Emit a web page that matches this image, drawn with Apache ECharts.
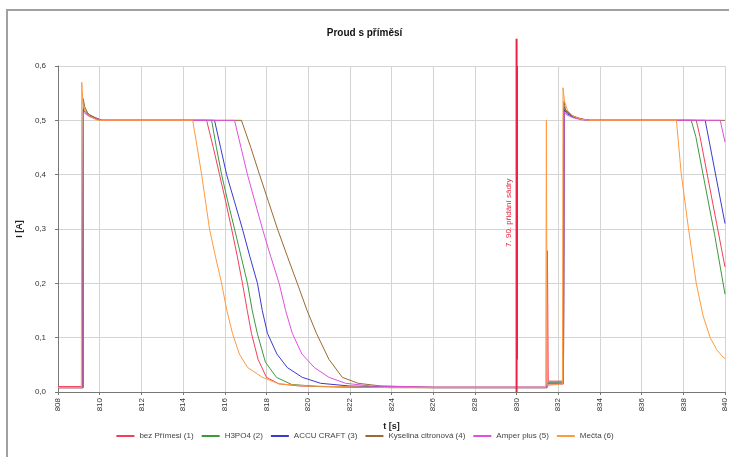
<!DOCTYPE html>
<html>
<head>
<meta charset="utf-8">
<title>Proud s příměsí</title>
<script src="https://cdn.jsdelivr.net/npm/echarts@6/dist/echarts.min.js"></script>
<style>
html, body { margin: 0; padding: 0; background: #fff; }
#main { width: 729px; height: 457px; }
</style>
</head>
<body>
<div id="main"></div>
<script>
// t [s] / I [A]
var names = ["bez Přímesi (1)", "H3PO4 (2)", "ACCU CRAFT (3)", "Kyselina citronová (4)", "Amper plus (5)", "Mečta (6)"];
var colors = ["#f0405a", "#3c9a3c", "#3a3ad0", "#9a6a30", "#e050e0", "#ff9a40"];

var t1 = [808, 809.18, 809.2, 809.22, 809.3, 809.5, 809.8, 810.1, 815.13, 815.45, 815.75, 816.05, 816.33, 816.6, 816.85, 817.08, 817.28, 817.6, 818.0, 818.6, 819.6, 822, 826, 831.45, 831.48, 831.52, 832.25, 832.28, 832.4, 832.7, 833.1, 833.5, 838.62, 838.8, 839.2, 839.6, 840];
var i1 = [0.01, 0.01, 0.285, 0.52, 0.515, 0.51, 0.505, 0.5, 0.5, 0.45, 0.4, 0.35, 0.3, 0.25, 0.2, 0.15, 0.108, 0.06, 0.027, 0.015, 0.011, 0.009, 0.008, 0.008, 0.26, 0.02, 0.02, 0.52, 0.515, 0.508, 0.503, 0.5, 0.5, 0.47, 0.39, 0.31, 0.23];

var t2 = [808, 809.2, 809.22, 809.3, 809.5, 809.8, 810.1, 815.37, 815.6, 815.85, 816.15, 816.47, 816.78, 817.09, 817.32, 817.56, 817.95, 818.48, 819.2, 820.5, 824, 831.45, 831.5, 832.25, 832.28, 832.4, 832.7, 833.1, 833.5, 838.38, 838.6, 839.0, 839.5, 840];
var i2 = [0.008, 0.008, 0.525, 0.518, 0.51, 0.504, 0.5, 0.5, 0.45, 0.4, 0.35, 0.3, 0.25, 0.2, 0.15, 0.108, 0.055, 0.027, 0.014, 0.01, 0.008, 0.008, 0.018, 0.018, 0.525, 0.515, 0.507, 0.502, 0.5, 0.5, 0.47, 0.39, 0.29, 0.18];

var t3 = [808, 809.2, 809.22, 809.3, 809.5, 809.8, 810.1, 815.51, 815.8, 816.09, 816.47, 816.85, 817.2, 817.57, 817.8, 818.05, 818.5, 819.0, 819.72, 820.6, 822, 826, 831.45, 831.5, 832.25, 832.28, 832.4, 832.7, 833.1, 833.5, 839.05, 839.25, 839.6, 840];
var i3 = [0.008, 0.008, 0.52, 0.515, 0.508, 0.503, 0.5, 0.5, 0.45, 0.4, 0.35, 0.3, 0.25, 0.2, 0.15, 0.108, 0.07, 0.045, 0.027, 0.016, 0.011, 0.008, 0.008, 0.016, 0.016, 0.52, 0.513, 0.506, 0.502, 0.5, 0.5, 0.46, 0.39, 0.31];

var t4 = [808, 809.2, 809.21, 809.28, 809.45, 809.75, 810.1, 816.8, 817.25, 817.67, 818.1, 818.53, 819.0, 819.48, 819.95, 820.4, 821.0, 821.64, 822.4, 823.5, 826, 831.45, 831.5, 832.25, 832.27, 832.35, 832.6, 833.0, 833.5, 840];
var i4 = [0.008, 0.008, 0.54, 0.525, 0.512, 0.505, 0.5, 0.5, 0.45, 0.4, 0.35, 0.3, 0.25, 0.2, 0.15, 0.108, 0.06, 0.027, 0.016, 0.011, 0.009, 0.009, 0.015, 0.015, 0.535, 0.52, 0.51, 0.503, 0.5, 0.5];

var t5 = [808, 809.2, 809.22, 809.3, 809.5, 809.8, 810.1, 816.47, 816.78, 817.09, 817.45, 817.81, 818.2, 818.61, 818.92, 819.24, 819.7, 820.3, 821.0, 821.8, 823, 826, 831.45, 831.5, 832.25, 832.28, 832.4, 832.7, 833.1, 833.5, 839.77, 840];
var i5 = [0.008, 0.008, 0.515, 0.512, 0.507, 0.503, 0.5, 0.5, 0.45, 0.4, 0.35, 0.3, 0.25, 0.2, 0.15, 0.108, 0.07, 0.045, 0.027, 0.016, 0.011, 0.009, 0.009, 0.015, 0.015, 0.515, 0.51, 0.505, 0.501, 0.5, 0.5, 0.46];

var t6 = [808, 809.12, 809.14, 809.2, 809.3, 809.55, 809.9, 814.46, 814.68, 814.89, 815.08, 815.27, 815.55, 815.85, 816.1, 816.37, 816.7, 817.1, 817.81, 818.6, 820, 824, 831.4, 831.43, 831.47, 832.2, 832.23, 832.3, 832.45, 832.7, 833.1, 833.5, 837.67, 837.9, 838.24, 838.62, 838.95, 839.29, 839.6, 839.91, 840];
var i6 = [0.008, 0.008, 0.57, 0.53, 0.515, 0.507, 0.5, 0.5, 0.45, 0.4, 0.35, 0.3, 0.25, 0.2, 0.15, 0.108, 0.07, 0.045, 0.027, 0.015, 0.011, 0.008, 0.008, 0.5, 0.012, 0.015, 0.56, 0.535, 0.518, 0.508, 0.502, 0.5, 0.5, 0.402, 0.303, 0.2, 0.14, 0.1, 0.078, 0.064, 0.062];

// red vertical marker line: time and top value
var markT = 830;
var markTop = 0.65;
var markText = "7. 90. přidání sádry";

var xTicks = { min: 808, max: 840, step: 2 };
var yTicks = { min: 0, max: 0.6, step: 0.1 };

function pairs(t, v) {
    return t.map(function (x, k) { return [x, v[k]]; });
}

var timeSets = [t1, t2, t3, t4, t5, t6];
var valueSets = [i1, i2, i3, i4, i5, i6];

var myChart = echarts.init(document.getElementById("main"));

var series = names.map(function (n, k) {
    return {
        name: n,
        type: "line",
        symbol: "none",
        showSymbol: false,
        lineStyle: { width: 1, color: colors[k] },
        itemStyle: { color: colors[k] },
        data: pairs(timeSets[k], valueSets[k]),
        z: 3
    };
});

series.push({
    name: "marker",
    type: "line",
    symbol: "none",
    clip: false,
    silent: true,
    lineStyle: { width: 2, color: "#ee2244" },
    data: [[markT, 0], [markT, markTop]],
    z: 4,
    markLine: {
        symbol: "none",
        silent: true,
        lineStyle: { width: 2, color: "#ee2244", type: "solid" },
        label: {
            formatter: markText,
            position: "insideMiddleTop",
            color: "#e8203c",
            fontSize: 8,
            distance: 4
        },
        data: [[{ coord: [markT, 0.06] }, { coord: [markT, 0.6] }]]
    }
});

var option = {
    backgroundColor: "#fff",
    textStyle: { fontFamily: "Liberation Sans, Arial, sans-serif" },
    animation: false,
    title: {
        text: "Proud s příměsí",
        left: "center",
        top: 23,
        textStyle: { fontSize: 10, fontWeight: "bold", color: "#111" }
    },
    legend: {
        data: names,
        bottom: 12,
        itemWidth: 18,
        itemHeight: 8,
        itemGap: 7,
        itemStyle: { opacity: 0 },
        textStyle: { fontSize: 8, color: "#444" }
    },
    grid: { left: 58, right: 2, top: 66, bottom: 65 },
    xAxis: {
        type: "value",
        min: xTicks.min,
        max: xTicks.max,
        interval: xTicks.step,
        name: "t [s]",
        nameLocation: "middle",
        nameGap: 30,
        nameTextStyle: { fontSize: 9, fontWeight: "bold", color: "#222" },
        axisLine: { lineStyle: { color: "#777" } },
        axisTick: { length: 3, lineStyle: { color: "#777" } },
        axisLabel: { rotate: 90, fontSize: 8, color: "#333", margin: 6 },
        splitLine: { show: true, lineStyle: { color: "#d4d4d4" } }
    },
    yAxis: {
        type: "value",
        min: yTicks.min,
        max: yTicks.max,
        interval: yTicks.step,
        name: "I [A]",
        nameLocation: "middle",
        nameGap: 26,
        nameTextStyle: { fontSize: 9, fontWeight: "bold", color: "#222" },
        axisLine: { show: true, lineStyle: { color: "#777" } },
        axisTick: { show: true, length: 3, lineStyle: { color: "#777" } },
        axisLabel: {
            fontSize: 8,
            color: "#333",
            margin: 12,
            formatter: function (v) { return v.toFixed(1).replace(".", ","); }
        },
        splitLine: { show: true, lineStyle: { color: "#d4d4d4" } }
    },
    graphic: [{
        type: "rect",
        shape: { x: 7, y: 10, width: 740, height: 470 },
        style: { fill: null, stroke: "#a0a0a0", lineWidth: 2 },
        silent: true
    }],
    series: series
};

myChart.setOption(option);
</script>
</body>
</html>
